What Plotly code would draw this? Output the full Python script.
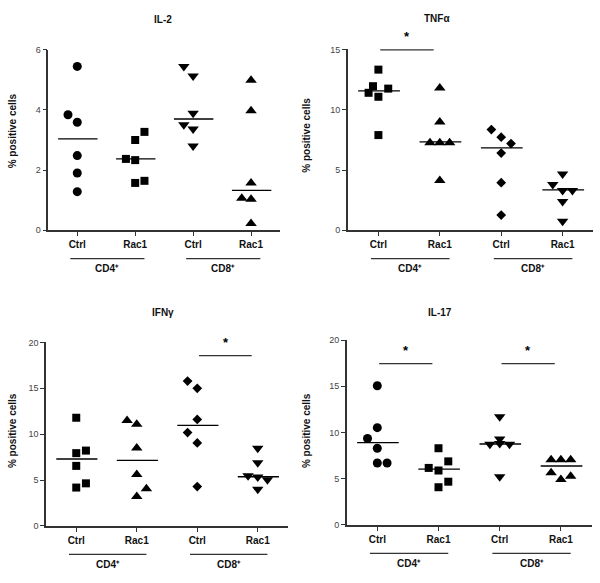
import plotly.graph_objects as go

categories = ["Ctrl", "Rac1", "Ctrl", "Rac1"]
cell_groups = ["CD4⁺", "CD8⁺"]
titles = ["IL-2", "TNFα", "IFNγ", "IL-17"]

# values per panel: [CD4 Ctrl, CD4 Rac1, CD8 Ctrl, CD8 Rac1]
il2_values = [
    [5.45, 3.84, 3.59, 2.48, 1.90, 1.28],
    [3.27, 3.00, 2.37, 2.33, 1.64, 1.57],
    [5.45, 5.13, 3.89, 3.51, 3.37, 2.80],
    [4.99, 3.97, 1.57, 1.06, 1.03, 0.22],
]
il2_means = [3.04, 2.37, 3.70, 1.32]
il2_jitter = [[0, -1, 0, 0, 0, 0], [1, 0, -1, 0, 1, 0], [-1, 0, 0, -1, 0, 0], [0, 0, 0, -1, 0, 0]]

tnf_values = [
    [13.36, 11.98, 11.78, 11.43, 11.10, 7.91],
    [11.84, 9.00, 7.28, 7.28, 7.28, 4.12],
    [8.37, 7.74, 7.20, 6.41, 3.95, 1.25],
    [4.66, 3.79, 3.30, 3.30, 2.37, 0.74],
]
tnf_means = [11.59, 7.34, 6.84, 3.35]
tnf_jitter = [[0, -0.55, 1, -1, 0, 0], [0, 0, -1, 0, 1, 0], [-1, 0, 1, 0, 0, 0], [0, -1, 0, 1, 0, 0]]

ifn_values = [
    [11.79, 8.21, 7.93, 6.54, 4.64, 4.18],
    [11.50, 11.07, 8.50, 5.60, 4.04, 3.21],
    [15.79, 15.00, 11.61, 10.18, 9.04, 4.29],
    [8.46, 6.89, 5.46, 5.32, 5.04, 4.00],
]
ifn_means = [7.29, 7.14, 10.96, 5.36]
ifn_jitter = [[0, 1, 0, 0, 1, 0], [-1, 0, 0, 0, 1, 0], [-1, 0, 0, -1, 0, 0], [0, 0, -1, 0, 1, 0]]

il17_values = [
    [15.07, 10.53, 9.36, 8.30, 6.70, 6.70],
    [8.30, 6.88, 6.17, 5.89, 4.68, 4.08],
    [11.70, 9.29, 8.72, 8.80, 8.72, 5.21],
    [7.06, 7.06, 7.06, 5.64, 4.93, 5.28],
]
il17_means = [8.90, 6.03, 8.76, 6.38]
il17_jitter = [[0, 0, -1, 0, 0, 1], [0, 1, -1, 0, 1, 0], [0, 0, -1, 0, 1, 0], [-1, 0, 1, -1, 0, 1]]

y_ticks = [[0, 2, 4, 6], [0, 5, 10, 15], [0, 5, 10, 15, 20], [0, 5, 10, 15, 20]]
y_ranges = [[0, 6], [0, 15.1], [0, 20], [0, 20]]
# significance: (group pair start index, bar height)
sig_il2 = []
sig_tnf = [(0, 15.0)]
sig_ifn = [(2, 18.57)]
sig_il17 = [(0, 17.45), (2, 17.45)]

symbols = [
    ["circle", "square", "triangle-down", "triangle-up"],
    ["square", "triangle-up", "diamond", "triangle-down"],
    ["square", "triangle-up", "diamond", "triangle-down"],
    ["circle", "square", "triangle-down", "triangle-up"],
]
sizes = {"circle": 9, "square": 8, "triangle-up": 10, "triangle-down": 10, "diamond": 7.5}

panels = [
    (il2_values, il2_means, il2_jitter, sig_il2),
    (tnf_values, tnf_means, tnf_jitter, sig_tnf),
    (ifn_values, ifn_means, ifn_jitter, sig_ifn),
    (il17_values, il17_means, il17_jitter, sig_il17),
]

W, H = 600, 583
# pixel layout of each panel: (x_left, x_right, y_top, y_bottom) of axes
boxes = [
    (48.3, 280.0, 45.7, 229.0),
    (347.7, 593.3, 44.5, 229.0),
    (46.0, 288.0, 343.3, 530.0),
    (346.7, 591.5, 341.0, 529.0),
]
title_pos = [(152, 15), (452, 14), (150, 313), (454, 313)]
ytitle_pos = [(12.5, 128), (307, 133), (12.5, 433), (306.5, 433)]

FONT = "Liberation Sans, Arial, sans-serif"
AX = "#333333"
JW = 0.16

fig = go.Figure()
layout = dict(
    width=W, height=H, margin=dict(l=0, r=0, t=0, b=0),
    paper_bgcolor="white", plot_bgcolor="white", showlegend=False,
    font=dict(family=FONT, color="black", size=10),
)
annotations = []
shapes = []

for p, (vals, means, jit, sigs) in enumerate(panels):
    xa = "x" if p == 0 else f"x{p+1}"
    ya = "y" if p == 0 else f"y{p+1}"
    xl, xr, yt, yb = boxes[p]
    layout["xaxis" if p == 0 else f"xaxis{p+1}"] = dict(
        domain=[xl / W, xr / W], range=[-0.5, 3.5], anchor=ya,
        tickvals=[0, 1, 2, 3], ticktext=categories,
        ticks="outside", ticklen=4,
        tickwidth=1.2, tickcolor=AX, showline=True, linecolor=AX, linewidth=1.5,
        showgrid=False, zeroline=False, fixedrange=True,
        tickfont=dict(size=10, family=FONT, color="#111", weight="bold"),
    )
    layout["yaxis" if p == 0 else f"yaxis{p+1}"] = dict(
        domain=[1 - yb / H, 1 - yt / H], range=y_ranges[p], anchor=xa,
        tickvals=y_ticks[p], ticks="outside", ticklen=4, tickwidth=1.2,
        tickcolor=AX, showline=True, linecolor=AX, linewidth=1.5,
        showgrid=False, zeroline=False, fixedrange=True,
        tickfont=dict(size=9, family=FONT, color="#444"),
    )
    for g in range(4):
        sym = symbols[p][g]
        fig.add_trace(go.Scatter(
            x=[g + j * JW for j in jit[g]], y=vals[g], mode="markers",
            xaxis=xa, yaxis=ya, cliponaxis=False,
            marker=dict(symbol=sym, size=sizes[sym], color="black", line=dict(width=0)),
        ))
        fig.add_trace(go.Scatter(
            x=[g - 0.33, g + 0.35], y=[means[g], means[g]], mode="lines",
            xaxis=xa, yaxis=ya, line=dict(color="black", width=1.3),
        ))
    for (g0, yb_) in sigs:
        shapes.append(dict(type="line", xref=xa, yref=ya, x0=g0 + 0.03, x1=g0 + 0.9,
                           y0=yb_, y1=yb_, line=dict(color=AX, width=1.3)))
        annotations.append(dict(x=g0 + 0.47, y=yb_, xref=xa, yref=ya, text="*",
                                showarrow=False, yanchor="middle", yshift=13,
                                font=dict(size=13, family=FONT, color="black", weight="bold")))
    # group underlines and labels
    line_y = 1 - (yb + 29) / H
    label_y = 1 - (yb + 39.5) / H
    for k, grp in enumerate(cell_groups):
        shapes.append(dict(type="line", xref=xa, yref="paper", x0=2 * k - 0.12, x1=2 * k + 1.16,
                           y0=line_y, y1=line_y, line=dict(color=AX, width=1.3)))
        annotations.append(dict(x=2 * k + 0.52, y=label_y, xref=xa, yref="paper", text=grp,
                                showarrow=False, yanchor="middle",
                                font=dict(size=10, family=FONT, color="#111", weight="bold")))
    tx, ty = title_pos[p]
    annotations.append(dict(x=tx / W, y=1 - ty / H, xref="paper", yref="paper", text=titles[p],
                            showarrow=False, yanchor="middle",
                            font=dict(size=10, family=FONT, color="#111", weight="bold")))
    ax_, ay_ = ytitle_pos[p]
    annotations.append(dict(x=ax_ / W, y=1 - ay_ / H, xref="paper", yref="paper",
                            text="% positive cells", textangle=-90, showarrow=False,
                            xanchor="center", yanchor="middle",
                            font=dict(size=10, family=FONT, color="#111", weight="bold")))

layout["annotations"] = annotations
layout["shapes"] = shapes
fig.update_layout(**layout)
fig.write_html("out.html", config={"displayModeBar": False},
               post_script="document.body.style.margin='0';document.body.style.overflow='hidden';")
